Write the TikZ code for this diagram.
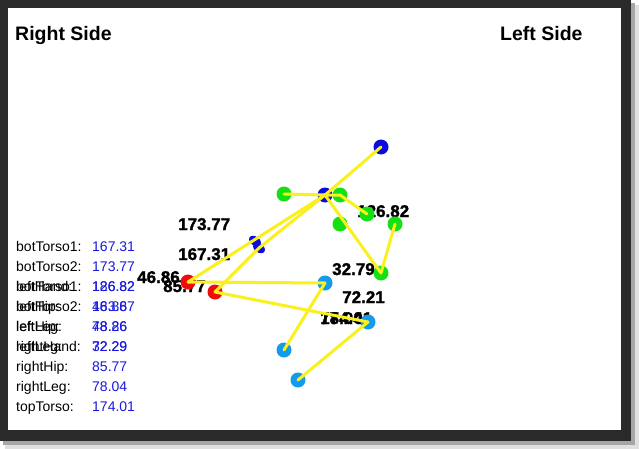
\documentclass[tikz,border=0pt]{standalone}
\usepackage{fontspec}
\setmainfont{Liberation Sans}
\newfontfamily\scorefont{Liberation Sans Bold}[FakeBold=1.5]
\usetikzlibrary{positioning,shapes.geometric}
\definecolor{framegrey}{RGB}{42,42,42}
\definecolor{jointblue}{RGB}{10,10,225}
\definecolor{jointgreen}{RGB}{20,225,20}
\definecolor{jointred}{RGB}{240,10,10}
\definecolor{jointcyan}{RGB}{20,155,235}
\definecolor{limbyellow}{RGB}{250,240,30}
\definecolor{valblue}{RGB}{25,25,225}

\begin{document}
\begin{tikzpicture}[
    x=1pt, y=-1pt,
    joint/.style={circle, inner sep=0pt, minimum size=15pt},
    limb/.style={draw=limbyellow, line width=3pt, line cap=round},
    score/.style={anchor=base west, inner sep=0pt, font=\scorefont\fontsize{17}{17}\selectfont},
    key/.style={anchor=base west, inner sep=0pt, font=\fontsize{14}{14}\selectfont},
    val/.style={key, text=valblue},
    side/.style={anchor=base west, inner sep=0pt, font=\bfseries\fontsize{19.5}{19.5}\selectfont}
]
    \useasboundingbox (0,0) rectangle (639,449);

    % Window frame with shadow
    \fill[black!12] (5,5) rectangle (639,449);
    \fill[black!35] (3,3) rectangle (635,445);
    \fill[framegrey] (0,0) rectangle (631,441);
    \fill[white] (8,8) rectangle (621,430);

    % Headings
    \node[side] (rside) at (15,41) {Right Side};
    \node[side] (lside) at (500,41) {Left Side};

    % Score list
    \node[key] (k1) at (16,251) {botTorso1:};
    \node[val] (v1) at (92,251) {167.31};
    \node[key] (k2) at (16,271) {botTorso2:};
    \node[val] (v2) at (92,271) {173.77};
    \node[key] (k3a) at (16,291) {botTorso1:};
    \node[key] (k3b) at (16,291) {leftHand:};
    \node[val] (v3a) at (92,291) {126.82};
    \node[val] (v3b) at (92,291) {186.82};
    \node[key] (k4a) at (16,311) {botTorso2:};
    \node[key] (k4b) at (16,311) {leftHip:};
    \node[val] (v4a) at (92,311) {46.86};
    \node[val] (v4b) at (92,311) {183.87};
    \node[key] (k5a) at (16,331) {leftHip:};
    \node[key] (k5b) at (16,331) {leftLeg:};
    \node[val] (v5a) at (92,331) {48.26};
    \node[val] (v5b) at (92,331) {78.86};
    \node[key] (k6a) at (16,351) {leftLeg:};
    \node[key] (k6b) at (16,351) {rightHand:};
    \node[val] (v6a) at (92,351) {32.29};
    \node[val] (v6b) at (92,351) {72.29};
    \node[key] (k7) at (16,371) {rightHip:};
    \node[val] (v7) at (92,371) {85.77};
    \node[key] (k8) at (16,391) {rightLeg:};
    \node[val] (v8) at (92,391) {78.04};
    \node[key] (k9) at (16,411) {topTorso:};
    \node[val] (v9) at (92,411) {174.01};

    % Angle labels on the skeleton
    \node[score] (s1) at (178,230) {173.77};
    \node[score] (s2) at (178,260) {167.31};
    \node[score] (s3) at (137,283) {46.86};
    \node[score] (s4) at (163,292) {85.77};
    \node[score] (s5) at (357,217) {126.82};
    \node[score] (s6) at (332,275) {32.79};
    \node[score] (s7) at (342,303) {72.21};
    \node[score] (s8) at (320,324) {78.04};
    \node[score] (s9) at (320,324) {174.01};

    % Joints
    \node[joint, fill=jointblue] (b1) at (381,147) {};
    \node[joint, fill=jointblue] (b2) at (325,195) {};
    \node[ellipse, inner sep=0pt, minimum width=13pt, minimum height=9pt, rotate=-35, fill=jointblue] (b3) at (255,241) {};
    \node[ellipse, inner sep=0pt, minimum width=13pt, minimum height=9pt, rotate=-35, fill=jointblue] (b4) at (259,248) {};
    \node[joint, fill=jointgreen] (g1) at (284,194) {};
    \node[joint, fill=jointgreen] (g2) at (340,195) {};
    \node[joint, fill=jointgreen] (g3) at (367,214) {};
    \node[joint, fill=jointgreen] (g4) at (340,224) {};
    \node[joint, fill=jointgreen] (g5) at (395,224) {};
    \node[joint, fill=jointgreen] (g6) at (381,273) {};
    \node[joint, fill=jointred] (r1) at (188,282) {};
    \node[joint, fill=jointred] (r2) at (215,292) {};
    \node[joint, fill=jointcyan] (c1) at (325,283) {};
    \node[joint, fill=jointcyan] (c2) at (368,322) {};
    \node[joint, fill=jointcyan] (c3) at (284,350) {};
    \node[joint, fill=jointcyan] (c4) at (298,380) {};

    % Limbs
    \draw[limb] (r1.center) -- (b2.center);
    \draw[limb] (r2.center) -- (b4.center) -- (b2.center);
    \draw[limb] (b2.center) -- (b1.center);
    \draw[limb] (b2.center) -- (g1.center);
    \draw[limb] (b2.center) -- (g2.center) -- (g3.center);
    \draw[limb] (b2.center) -- (g6.center);
    \draw[limb] (g5.center) -- (g6.center);
    \draw[limb] (r1.center) -- (c1.center);
    \draw[limb] (r2.center) -- (c2.center);
    \draw[limb] (c1.center) -- (c3.center);
    \draw[limb] (c2.center) -- (c4.center);
\end{tikzpicture}
\end{document}
